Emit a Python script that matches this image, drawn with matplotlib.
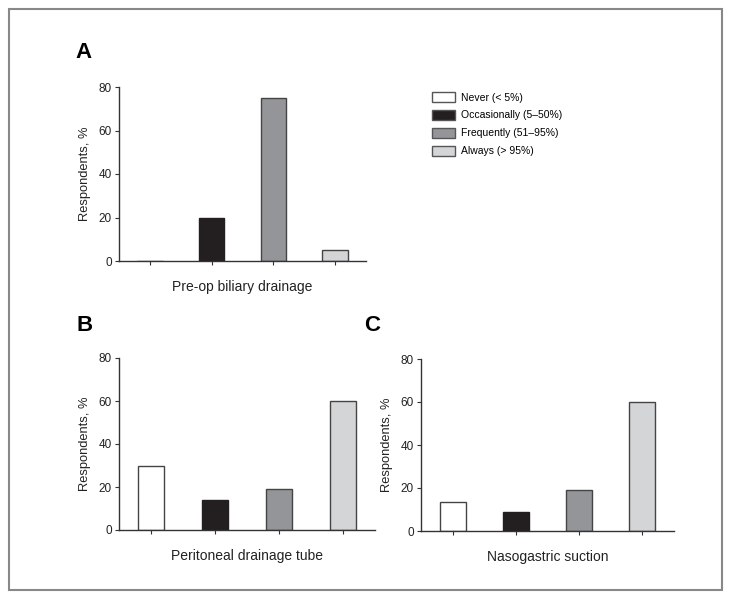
import matplotlib.pyplot as plt
from matplotlib.patches import Patch, Rectangle

plt.rcParams['font.family'] = ['Liberation Sans', 'DejaVu Sans']

categories = ['Never (< 5%)', 'Occasionally (5\u201350%)',
              'Frequently (51\u201395%)', 'Always (> 95%)']
colors = ['#ffffff', '#231f20', '#939598', '#d4d5d7']
edges = ['#444444', '#231f20', '#444444', '#444444']

preop_drainage = [0, 20, 75, 5]
peritoneal_tube = [30, 14, 19, 60]
nasogastric = [13.5, 9, 19, 60]

W, H = 731, 599
fig = plt.figure(figsize=(W / 100, H / 100), dpi=100)

# outer frame
fig.patches.append(Rectangle((9 / W, 9 / H), 713 / W, 581 / H, transform=fig.transFigure,
                             fill=False, edgecolor='#888888', linewidth=1.5))

ax_a = fig.add_axes([119 / W, 1 - 261 / H, 247 / W, 174 / H])
ax_b = fig.add_axes([119 / W, 1 - 530 / H, 256 / W, 172 / H])
ax_c = fig.add_axes([421 / W, 1 - 531 / H, 253 / W, 172 / H])

panels = [
    (ax_a, preop_drainage, 'Pre-op biliary drainage'),
    (ax_b, peritoneal_tube, 'Peritoneal drainage tube'),
    (ax_c, nasogastric, 'Nasogastric suction'),
]

x = range(len(categories))
for ax, vals, title in panels:
    ax.bar(x, vals, width=0.41, color=colors, edgecolor=edges, linewidth=1.0)
    ax.set_xlim(-0.5, 3.5)
    ax.set_ylim(0, 80)
    ax.set_yticks([0, 20, 40, 60, 80])
    ax.set_xticks(list(x))
    ax.set_xticklabels([])
    ax.tick_params(axis='x', length=3, width=0.8, color='#333333')
    ax.tick_params(axis='y', length=3, width=0.8, color='#333333', labelsize=8.5,
                   labelcolor='#222222', pad=2)
    for s in ['top', 'right']:
        ax.spines[s].set_visible(False)
    for s in ['left', 'bottom']:
        ax.spines[s].set_linewidth(1.0)
        ax.spines[s].set_color('#333333')
    ax.set_xlabel(title, fontsize=10, labelpad=7, color='#222222')
    ax.set_ylabel('Respondents, %', fontsize=9.3, labelpad=5.5, color='#222222')

fig.text(83 / W, 1 - 52 / H, 'A', fontsize=16, fontweight='bold', ha='center', va='center')
fig.text(85 / W, 1 - 325 / H, 'B', fontsize=16, fontweight='bold', ha='center', va='center')
fig.text(372 / W, 1 - 325 / H, 'C', fontsize=16, fontweight='bold', ha='center', va='center')

handles = [Patch(facecolor=c, edgecolor='#555555', linewidth=1.0) for c in colors]
fig.legend(handles, categories, loc='upper left', bbox_to_anchor=(432 / W, 1 - 92 / H),
           frameon=False, fontsize=7.5, borderpad=0, borderaxespad=0,
           handlelength=2.2, handleheight=1.1, handletextpad=0.55, labelspacing=0.7)

fig.savefig('out.png', dpi=100)
